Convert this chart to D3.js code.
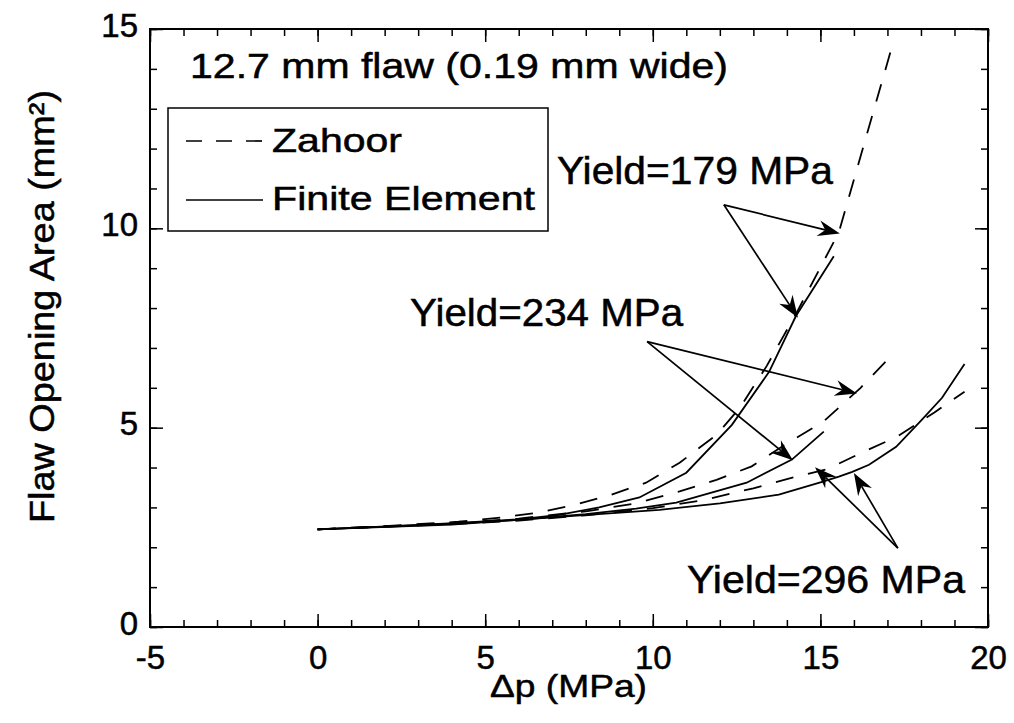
<!DOCTYPE html>
<html>
<head>
<meta charset="utf-8">
<script src="https://cdn.jsdelivr.net/npm/d3@7"></script>
<style>
  body { margin: 0; background: #fff; }
  svg { display: block; }
  text { font-family: "Liberation Sans", Arial, Helvetica, sans-serif; fill: #000; stroke: #000; stroke-width: 0.5px; }
</style>
</head>
<body>
<svg id="chart" width="1014" height="723"></svg>
<script>
// Flaw opening area versus pressure difference for a 12.7 mm flaw,
// Zahoor estimate (dashed) and finite element results (solid) at three yield strengths.

const xTicks = [-5, 0, 5, 10, 15, 20];
const yTicks = [0, 5, 10, 15];

const zahoor179X = [0, 2, 4.2, 5.5, 6.6, 7.7, 8.7, 9.8, 10.8, 11.9, 12.6, 13.4, 14.3, 15.55, 17.15];
const zahoor179Y = [2.45, 2.53, 2.64, 2.75, 2.87, 3.07, 3.3, 3.62, 4.12, 4.82, 5.5, 6.55, 7.9, 9.9, 14.6];
const fe179X = [0, 2, 4.2, 6, 7.2, 8.4, 9.6, 11, 12.36, 13.47, 14.27, 15.4];
const fe179Y = [2.45, 2.52, 2.61, 2.7, 2.81, 3.0, 3.25, 3.87, 5.07, 6.4, 7.8, 9.3];

const zahoor234X = [0, 4, 6, 8, 9.5, 10.8, 11.9, 12.95, 14.0, 15.1, 16.2, 17.2];
const zahoor234Y = [2.45, 2.6, 2.72, 2.9, 3.1, 3.4, 3.69, 4.03, 4.6, 5.16, 6.0, 6.88];
const fe234X = [0, 4, 6, 8, 9.5, 10.7, 12.8, 14.15, 15.1];
const fe234Y = [2.45, 2.59, 2.69, 2.83, 2.97, 3.12, 3.62, 4.2, 4.9];

const zahoor296X = [0, 4, 6, 8, 10, 11.5, 13, 14, 15.2, 16.2, 17.3, 18.4, 19.3];
const zahoor296Y = [2.45, 2.58, 2.67, 2.8, 2.98, 3.18, 3.48, 3.71, 3.96, 4.36, 4.78, 5.38, 5.9];
const fe296X = [0, 4, 7.2, 10.2, 12, 13.76, 15.05, 15.55, 15.95, 16.45, 17.26, 18.03, 18.63, 19.3];
const fe296Y = [2.45, 2.57, 2.76, 2.94, 3.1, 3.32, 3.64, 3.77, 3.89, 4.07, 4.52, 5.2, 5.75, 6.6];

// Yield-strength callouts: label anchor, and arrow start / arrow tips (data units)
const calloutLabels = ["Yield=179 MPa", "Yield=234 MPa", "Yield=296 MPa"];
const calloutTextX = [7.14, 2.76, 11.02];
const calloutTextY = [11.12, 7.54, 0.85];
const calloutTextLen = [276, 273, 278];
const arrowFromX = [12.12, 9.83, 17.31];
const arrowFromY = [10.59, 7.16, 1.98];
const arrowTipsX = [[15.58, 14.33], [16.09, 14.18], [14.84, 16.0]];
const arrowTipsY = [[9.87, 7.76], [5.86, 4.18], [4.01, 3.86]];

const svg = d3.select("#chart");
const W = 1014, H = 723;
const m = { left: 150, right: 988, top: 29, bottom: 627 };

svg.append("rect").attr("width", W).attr("height", H).attr("fill", "#fff");

const x = d3.scaleLinear().domain([-5, 20]).range([m.left, m.right]);
const y = d3.scaleLinear().domain([0, 15]).range([m.bottom, m.top]);
const minorX = d3.range(-5, 21, 1);
const minorY = d3.range(0, 16, 1);

function styleAxis(g) {
  g.select(".domain").remove();
  g.selectAll(".tick line").attr("stroke", "#000").attr("stroke-width", 1.5);
}

// minor ticks, all four sides, pointing inward
svg.append("g").attr("transform", `translate(0,${m.bottom})`)
  .call(d3.axisBottom(x).tickValues(minorX).tickSize(-7).tickFormat("")).call(styleAxis);
svg.append("g").attr("transform", `translate(0,${m.top})`)
  .call(d3.axisTop(x).tickValues(minorX).tickSize(-7).tickFormat("")).call(styleAxis);
svg.append("g").attr("transform", `translate(${m.left},0)`)
  .call(d3.axisLeft(y).tickValues(minorY).tickSize(-7).tickFormat("")).call(styleAxis);
svg.append("g").attr("transform", `translate(${m.right},0)`)
  .call(d3.axisRight(y).tickValues(minorY).tickSize(-7).tickFormat("")).call(styleAxis);

// major ticks with labels
const gx = svg.append("g").attr("transform", `translate(0,${m.bottom})`)
  .call(d3.axisBottom(x).tickValues(xTicks).tickSize(-13).tickPadding(19).tickFormat(d => String(d)))
  .call(styleAxis);
gx.selectAll("text").attr("font-size", 33).attr("font-family", null);
svg.append("g").attr("transform", `translate(0,${m.top})`)
  .call(d3.axisTop(x).tickValues(xTicks).tickSize(-13).tickFormat("")).call(styleAxis);
const gy = svg.append("g").attr("transform", `translate(${m.left},0)`)
  .call(d3.axisLeft(y).tickValues(yTicks).tickSize(-13).tickPadding(12).tickFormat(d => String(d)))
  .call(styleAxis);
gy.selectAll("text").attr("font-size", 33).attr("font-family", null).attr("dy", "0.22em");
svg.append("g").attr("transform", `translate(${m.right},0)`)
  .call(d3.axisRight(y).tickValues(yTicks).tickSize(-13).tickFormat("")).call(styleAxis);

// frame
svg.append("rect")
  .attr("x", m.left).attr("y", m.top)
  .attr("width", m.right - m.left).attr("height", m.bottom - m.top)
  .attr("fill", "none").attr("stroke", "#000").attr("stroke-width", 2);

// curves
const line = d3.line().x(d => x(d[0])).y(d => y(d[1]));
const series = [
  { xs: zahoor179X, ys: zahoor179Y, dashed: true },
  { xs: fe179X, ys: fe179Y, dashed: false },
  { xs: zahoor234X, ys: zahoor234Y, dashed: true },
  { xs: fe234X, ys: fe234Y, dashed: false },
  { xs: zahoor296X, ys: zahoor296Y, dashed: true },
  { xs: fe296X, ys: fe296Y, dashed: false }
];
series.forEach(s => {
  svg.append("path")
    .datum(s.xs.map((v, i) => [v, s.ys[i]]))
    .attr("d", line)
    .attr("fill", "none")
    .attr("stroke", "#000")
    .attr("stroke-width", 1.8)
    .attr("stroke-dasharray", s.dashed ? "18,15" : null);
});

// callouts with barbed arrowheads
function arrow(x0, y0, x1, y1) {
  const ang = Math.atan2(y1 - y0, x1 - x0);
  const L = 22, hw = 8, notch = 15;
  const ux = Math.cos(ang), uy = Math.sin(ang);
  const px = -uy, py = ux;
  const bx = x1 - ux * L, by = y1 - uy * L;
  const nx = x1 - ux * notch, ny = y1 - uy * notch;
  svg.append("line")
    .attr("x1", x0).attr("y1", y0).attr("x2", nx).attr("y2", ny)
    .attr("stroke", "#000").attr("stroke-width", 1.7);
  svg.append("path")
    .attr("d", `M${x1},${y1}L${bx + px * hw},${by + py * hw}L${nx},${ny}L${bx - px * hw},${by - py * hw}Z`)
    .attr("fill", "#000");
}
calloutLabels.forEach((lab, i) => {
  svg.append("text")
    .attr("x", x(calloutTextX[i])).attr("y", y(calloutTextY[i]))
    .attr("font-size", 38)
    .attr("textLength", calloutTextLen[i]).attr("lengthAdjust", "spacingAndGlyphs")
    .text(lab);
  arrowTipsX[i].forEach((tx, j) => {
    arrow(x(arrowFromX[i]), y(arrowFromY[i]), x(tx), y(arrowTipsY[i][j]));
  });
});

// heading inside the plot
svg.append("text")
  .attr("x", 190).attr("y", 78)
  .attr("font-size", 35)
  .attr("textLength", 538).attr("lengthAdjust", "spacingAndGlyphs")
  .text("12.7 mm flaw (0.19 mm wide)");

// legend
const lg = svg.append("g");
lg.append("rect").attr("x", 168).attr("y", 108).attr("width", 380).attr("height", 123)
  .attr("fill", "#fff").attr("stroke", "#000").attr("stroke-width", 1.5);
lg.append("line").attr("x1", 186).attr("x2", 263).attr("y1", 141).attr("y2", 141)
  .attr("stroke", "#000").attr("stroke-width", 1.7).attr("stroke-dasharray", "16,14");
lg.append("line").attr("x1", 186).attr("x2", 263).attr("y1", 200).attr("y2", 200)
  .attr("stroke", "#000").attr("stroke-width", 1.7);
lg.append("text").attr("x", 272).attr("y", 152).attr("font-size", 33)
  .attr("textLength", 130).attr("lengthAdjust", "spacingAndGlyphs").text("Zahoor");
lg.append("text").attr("x", 272).attr("y", 210).attr("font-size", 33)
  .attr("textLength", 263).attr("lengthAdjust", "spacingAndGlyphs").text("Finite Element");

// axis titles
svg.append("text")
  .attr("x", 490).attr("y", 697)
  .attr("font-size", 32)
  .attr("textLength", 157).attr("lengthAdjust", "spacingAndGlyphs")
  .text("Δp (MPa)");
svg.append("text")
  .attr("transform", "translate(54,523) rotate(-90)")
  .attr("x", 0).attr("y", 0)
  .attr("font-size", 35)
  .attr("textLength", 433).attr("lengthAdjust", "spacingAndGlyphs")
  .text("Flaw Opening Area (mm²)");
</script>
</body>
</html>
